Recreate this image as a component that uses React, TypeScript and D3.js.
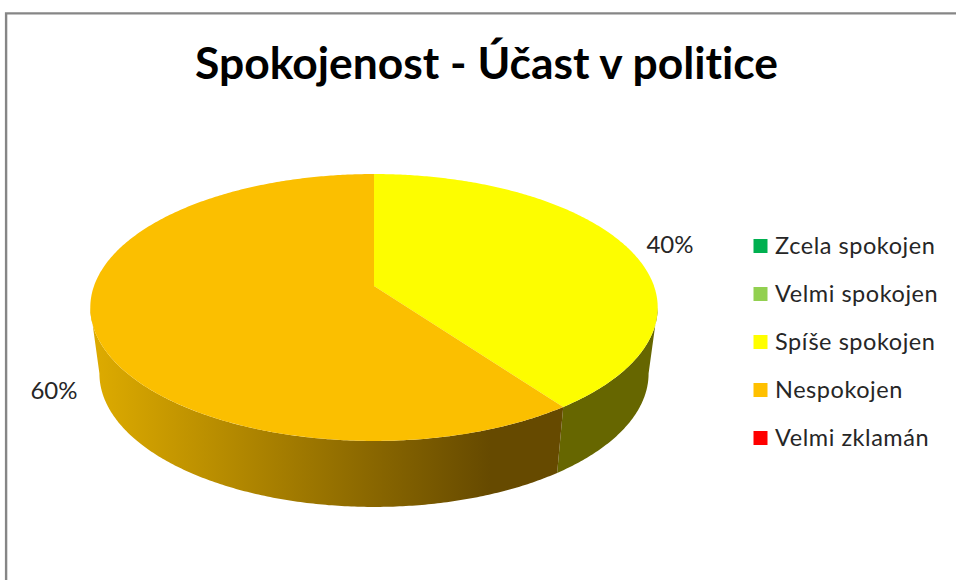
import React from "react";
import * as d3 from "d3";

const categories = ["Zcela spokojen", "Velmi spokojen", "Spíše spokojen", "Nespokojen", "Velmi zklamán"];
const shares = [0, 0, 40, 60, 0];
const palette = ["#00B050", "#92D050", "#FFFF00", "#FFC000", "#FF0000"];
const topFace = ["#00B050", "#92D050", "#FDFD00", "#FBBF00", "#FF0000"];
const sideTint = ["#006a30", "#587d30", "#666600", "#664d00", "#660000"];
const chartTitle = "Spokojenost - Účast v politice";

const font = "Lato, Carlito, 'Open Sans', sans-serif";

// Perspective projection of a unit disc lying flat: the near edge is drawn larger than the far edge.
type Disc = { cx: number; cy: number; a: number; b: number; p: number };
const topDisc: Disc = { cx: 374, cy: 286, a: 280, b: 130, p: 0.161 };
const baseDisc: Disc = { cx: 374, cy: 352, a: 271, b: 130, p: 0.161 };

function project(d: Disc, angle: number): [number, number] {
  const X = Math.sin(angle);
  const Y = -Math.cos(angle);
  const w = 1 - d.p * Y;
  return [d.cx + (d.a * X) / w, d.cy + (d.b * Y) / w];
}

function arcPoints(d: Disc, start: number, end: number): [number, number][] {
  const n = Math.max(2, Math.ceil(Math.abs(end - start) / 0.01));
  return d3.range(n + 1).map((i) => project(d, start + ((end - start) * i) / n));
}

// The wall is visible only between the two silhouette angles of the projected disc.
const wallStart = Math.acos(-topDisc.p);
const wallEnd = 2 * Math.PI - wallStart;

const line = d3.line();

export default function App() {
  const slices = d3.pie<number>().sort(null).value((v) => v)(shares);
  const legendY = d3.scalePoint<string>().domain(categories).range([246, 438]);

  return (
    <svg
      width={956}
      height={580}
      viewBox="0 0 956 580"
      style={{ position: "absolute", left: 0, top: 0, display: "block", background: "#fff" }}
    >
      <defs>
        <linearGradient id="nespokojenSide" gradientUnits="userSpaceOnUse" x1={98} x2={490} y1={0} y2={0}>
          <stop offset="0" stopColor="#dcaa00" />
          <stop offset="1" stopColor="#664a00" />
        </linearGradient>
      </defs>

      {/* chart frame, running off the top right and the bottom */}
      <path d="M6.1 580V13.4H956" fill="none" stroke="#868686" strokeWidth={2.4} />

      <text
        x={486.5}
        y={79}
        textAnchor="middle"
        fontFamily={font}
        fontWeight={700}
        fontSize={44.4}
        style={{ fontVariantLigatures: "none" }}
        fill="#000"
      >
        {chartTitle}
      </text>

      {/* side wall, one band per slice, limited to the visible angles */}
      {slices.map((s, i) => {
        const a0 = Math.max(s.startAngle, wallStart);
        const a1 = Math.min(s.endAngle, wallEnd);
        if (s.value <= 0 || a1 <= a0) return null;
        return (
          <path
            key={`side-${i}`}
            d={line([...arcPoints(topDisc, a0, a1), ...arcPoints(baseDisc, a0, a1).reverse()]) + "Z"}
            fill={categories[i] === "Nespokojen" ? "url(#nespokojenSide)" : sideTint[i]}
          />
        );
      })}

      {/* top face */}
      {slices.map((s, i) =>
        s.value > 0 ? (
          <path
            key={`top-${i}`}
            d={
              line([
                [topDisc.cx, topDisc.cy],
                ...arcPoints(topDisc, s.startAngle, s.endAngle),
              ]) + "Z"
            }
            fill={topFace[i]}
          />
        ) : null
      )}

      <g fontFamily={font} fontSize={24} fill="#262626" textAnchor="middle">
        <text x={670} y={253}>{`${shares[2]}%`}</text>
        <text x={54} y={399}>{`${shares[3]}%`}</text>
      </g>

      {/* legend */}
      {categories.map((c, i) => (
        <g key={c} transform={`translate(753.5, ${legendY(c)})`}>
          <rect x={0} y={-7} width={14} height={14} fill={palette[i]} />
          <text
            x={21.5}
            y={8}
            fontFamily={font}
            fontSize={23.5}
            letterSpacing={0.55}
            style={{ fontVariantLigatures: "none" }}
            fill="#262626"
          >
            {c}
          </text>
        </g>
      ))}
    </svg>
  );
}
